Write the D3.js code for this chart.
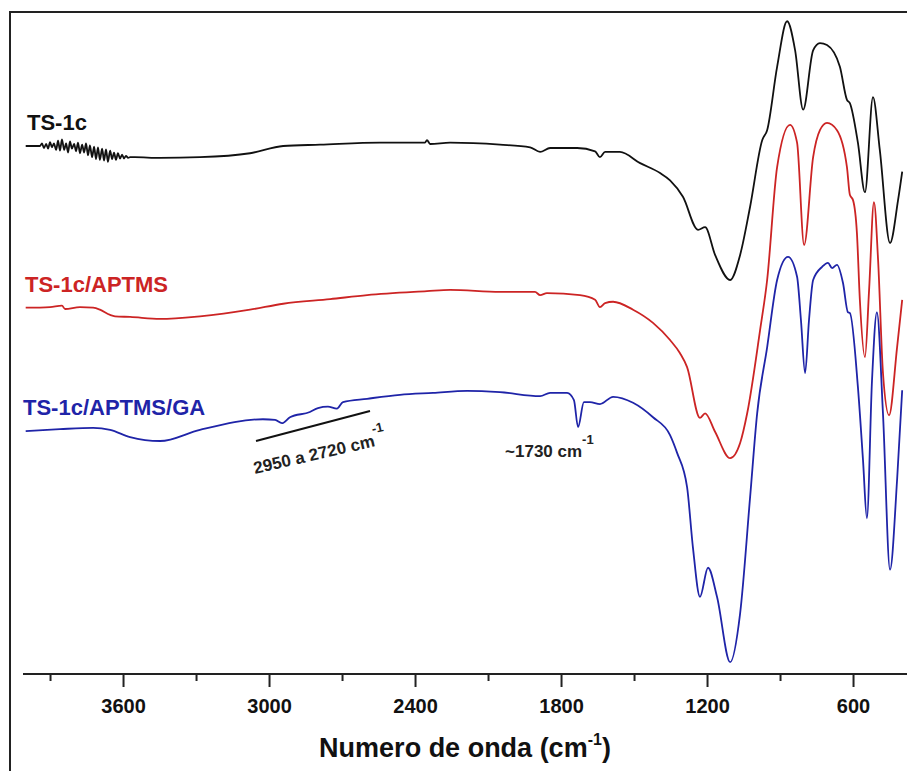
<!DOCTYPE html>
<html>
<head>
<meta charset="utf-8">
<script src="https://cdn.jsdelivr.net/npm/d3@7"></script>
<style>
  body { margin: 0; background: #fff; }
  svg { display: block; font-family: "Liberation Sans", Arial, sans-serif; }
</style>
</head>
<body>
<div id="vis"></div>
<script>
// FTIR spectra
const FRAME_WIDTH = 907;
const FRAME_HEIGHT = 771;

const MAJOR_TICKS = [3600, 3000, 2400, 1800, 1200, 600];
const MINOR_TICKS = [3900, 3300, 2700, 2100, 1500, 900];

const SERIES_NAMES = ["TS-1c", "TS-1c/APTMS", "TS-1c/APTMS/GA"];
const SERIES_COLORS = ["#111111", "#cc2424", "#1f24a8"];

// wavenumber (cm-1), transmittance (a.u., stacked)
const TS1C_WN = [4000,
    3941, 3933, 3925, 3916, 3908, 3900, 3892, 3884, 3875, 3867, 3859, 3851, 3842, 3834, 3826, 3818, 3810, 3801, 3793, 3785, 3777, 3768, 3760,
    3752, 3744, 3736, 3727, 3719, 3711, 3703, 3695, 3686, 3678, 3670, 3662, 3653, 3645, 3637, 3629, 3621, 3612, 3604, 3596, 3588, 3579, 3571,
    3551, 3448, 3284, 3078, 2942, 2790, 2544, 2359, 2351, 2338, 2256, 2051, 1927, 1886, 1845, 1734, 1660, 1640, 1619, 1558,
    1475, 1393, 1352, 1299, 1237, 1208, 1167, 1105, 1064, 1023, 973, 953, 912, 871, 838, 805, 764, 736, 707, 654,
    625, 613, 580, 551, 518, 490, 448, 415, 398];
const TS1C_T = [80.0,
    80.0, 80.4, 79.7, 80.3, 79.6, 80.6, 79.8, 80.4, 79.4, 80.8, 79.3, 81.0, 79.4, 80.4, 79.0, 80.7, 79.6, 80.3, 79.2, 80.5, 78.9, 80.2, 79.0,
    80.4, 78.6, 80.1, 78.3, 79.9, 78.0, 79.8, 77.9, 79.6, 77.8, 79.5, 77.6, 79.3, 78.0, 79.0, 77.9, 78.9, 78.1, 78.7, 78.1, 78.5, 78.2, 78.3,
    78.3, 78.2, 78.3, 78.9, 80.0, 80.2, 80.5, 80.5, 80.9, 80.3, 80.5, 80.2, 79.8, 79.1, 79.7, 79.7, 79.2, 78.3, 79.1, 79.1,
    77.4, 75.9, 74.8, 72.3, 67.3, 67.7, 63.5, 59.7, 63.5, 70.8, 80.9, 82.4, 92.0, 98.9, 94.5, 85.5, 94.5, 95.6, 95.3, 92.0,
    87.0, 86.5, 80.5, 73.0, 87.4, 79.4, 65.3, 71.8, 76.1];

const APTMS_WN = [4000, 3900, 3851, 3838, 3777, 3723, 3695, 3653, 3633, 3571, 3448, 3284, 3078, 2942, 2749, 2597, 2351, 2256, 2051, 1907,
    1886, 1858, 1722, 1660, 1640, 1619, 1586, 1504, 1422, 1352, 1311, 1282, 1229, 1208, 1167, 1105, 1064, 1035, 982, 953,
    912, 859, 830, 801, 764, 736, 707, 666, 625, 613, 600, 584, 572, 551, 534, 514, 497, 477, 452, 419, 398];
const APTMS_T = [55.5, 55.6, 55.8, 55.3, 55.6, 55.5, 55.2, 54.4, 54.2, 54.1, 53.8, 54.2, 55.2, 56.1, 56.8, 57.4, 58.0, 58.2, 57.9, 57.9,
    57.4, 57.7, 57.4, 56.7, 55.6, 56.2, 56.4, 55.2, 53.2, 50.6, 48.6, 46.5, 38.8, 39.5, 36.7, 32.7, 35.0, 39.5, 52.1, 59.7,
    76.8, 83.2, 80.5, 65.0, 78.3, 82.4, 83.5, 82.4, 76.8, 72.6, 71.8, 66.8, 56.7, 48.0, 58.2, 71.5, 62.7, 45.6, 39.2, 49.5, 56.7];

const GA_WN = [4000, 3859, 3723, 3653, 3571, 3448, 3284, 3025, 2975, 2947, 2914, 2832, 2799, 2758, 2721, 2696, 2597, 2462, 2326, 2186,
    2051, 1886, 1845, 1775, 1747, 1730, 1706, 1681, 1640, 1586, 1504, 1422, 1352, 1323, 1282, 1258, 1229, 1196, 1159, 1105,
    1064, 1023, 994, 953, 912, 867, 830, 814, 797, 781, 764, 727, 703, 686, 666, 641, 621, 613, 580, 559,
    543, 522, 502, 477, 448, 419, 398];
const GA_T = [36.8, 37.1, 37.3, 37.0, 35.9, 35.3, 37.0, 38.6, 38.5, 38.0, 38.9, 39.7, 40.3, 40.5, 40.2, 41.2, 41.7, 42.3, 42.6, 42.9,
    42.7, 42.1, 42.6, 42.6, 41.5, 37.4, 41.2, 41.2, 40.9, 42.0, 41.1, 38.9, 36.2, 33.5, 28.3, 19.2, 11.7, 16.1, 11.7, 1.8,
    9.2, 26.8, 39.5, 49.5, 59.7, 63.2, 60.2, 53.6, 45.6, 53.6, 59.7, 61.7, 62.3, 61.5, 62.0, 59.2, 54.8, 54.7, 43.5, 32.4,
    23.6, 44.5, 54.8, 39.5, 15.8, 29.4, 43.0];

const ALL_WN = [TS1C_WN, APTMS_WN, GA_WN];
const ALL_T = [TS1C_T, APTMS_T, GA_T];

const LABEL_POS = [{x: 27, y: 130}, {x: 25, y: 292}, {x: 23, y: 415}];

const X_SCALE = d3.scaleLinear()
    .domain([4000, 400])
    .range([25.7, 901.7]);

const Y_SCALE = d3.scaleLinear()
    .domain([0, 100])
    .range([674, 14]);

const AXIS_Y = 674;

const svg = d3.select("#vis")
    .append("svg")
    .attr("width", FRAME_WIDTH)
    .attr("height", FRAME_HEIGHT);

// outer frame (top and left edges visible)
svg.append("path")
    .attr("d", "M10," + FRAME_HEIGHT + "V12H" + FRAME_WIDTH)
    .attr("fill", "none")
    .attr("stroke", "#222")
    .attr("stroke-width", 2);

// spectra
const line = d3.line()
    .x((d) => X_SCALE(d[0]))
    .y((d) => Y_SCALE(d[1]))
    .curve(d3.curveMonotoneX);

ALL_WN.forEach((wn, i) => {
    const pts = wn.map((w, j) => [w, ALL_T[i][j]]);
    svg.append("path")
        .datum(pts)
        .attr("d", line)
        .attr("fill", "none")
        .attr("stroke", SERIES_COLORS[i])
        .attr("stroke-width", 1.8)
        .attr("stroke-linejoin", "round");

    svg.append("text")
        .attr("x", LABEL_POS[i].x)
        .attr("y", LABEL_POS[i].y)
        .attr("fill", SERIES_COLORS[i])
        .attr("font-size", "22px")
        .attr("font-weight", "bold")
        .text(SERIES_NAMES[i]);
});

// x axis
svg.append("line")
    .attr("x1", 23).attr("x2", FRAME_WIDTH)
    .attr("y1", AXIS_Y).attr("y2", AXIS_Y)
    .attr("stroke", "#222")
    .attr("stroke-width", 2);

const major = svg.append("g")
    .attr("transform", "translate(0," + AXIS_Y + ")")
    .call(d3.axisBottom(X_SCALE).tickValues(MAJOR_TICKS).tickFormat(d3.format("d"))
        .tickSize(13).tickPadding(12).tickSizeOuter(0));
major.select(".domain").remove();
major.selectAll(".tick line").attr("stroke", "#222").attr("stroke-width", 2);
major.selectAll(".tick text")
    .attr("font-family", "'Liberation Sans', Arial, sans-serif")
    .attr("font-size", "20px")
    .attr("font-weight", "bold")
    .attr("fill", "#111");

const minor = svg.append("g")
    .attr("transform", "translate(0," + AXIS_Y + ")")
    .call(d3.axisBottom(X_SCALE).tickValues(MINOR_TICKS).tickSize(7).tickFormat("").tickSizeOuter(0));
minor.select(".domain").remove();
minor.selectAll(".tick line").attr("stroke", "#222").attr("stroke-width", 2);

// axis title
const title = svg.append("text")
    .attr("x", 465)
    .attr("y", 757)
    .attr("text-anchor", "middle")
    .attr("font-size", "27px")
    .attr("font-weight", "bold")
    .attr("fill", "#111");
title.append("tspan").text("Numero de onda (cm");
title.append("tspan").attr("font-size", "16px").attr("dy", -12).text("-1");
title.append("tspan").attr("dy", 12).text(")");

// annotations
const ann1 = svg.append("text")
    .attr("x", X_SCALE(1730) - 73)
    .attr("y", 457)
    .attr("font-size", "17px")
    .attr("font-weight", "bold")
    .attr("fill", "#222");
ann1.append("tspan").text("~1730 cm");
ann1.append("tspan").attr("font-size", "13px").attr("dy", -13).text("-1");

svg.append("line")
    .attr("x1", 256).attr("y1", 441)
    .attr("x2", 370).attr("y2", 411)
    .attr("stroke", "#111")
    .attr("stroke-width", 2);

const ann2 = svg.append("text")
    .attr("transform", "translate(255,474) rotate(-13)")
    .attr("font-size", "17px")
    .attr("font-weight", "bold")
    .attr("fill", "#222");
ann2.append("tspan").text("2950 a 2720 cm");
ann2.append("tspan").attr("font-size", "13px").attr("dy", -13).text("-1");
</script>
</body>
</html>
